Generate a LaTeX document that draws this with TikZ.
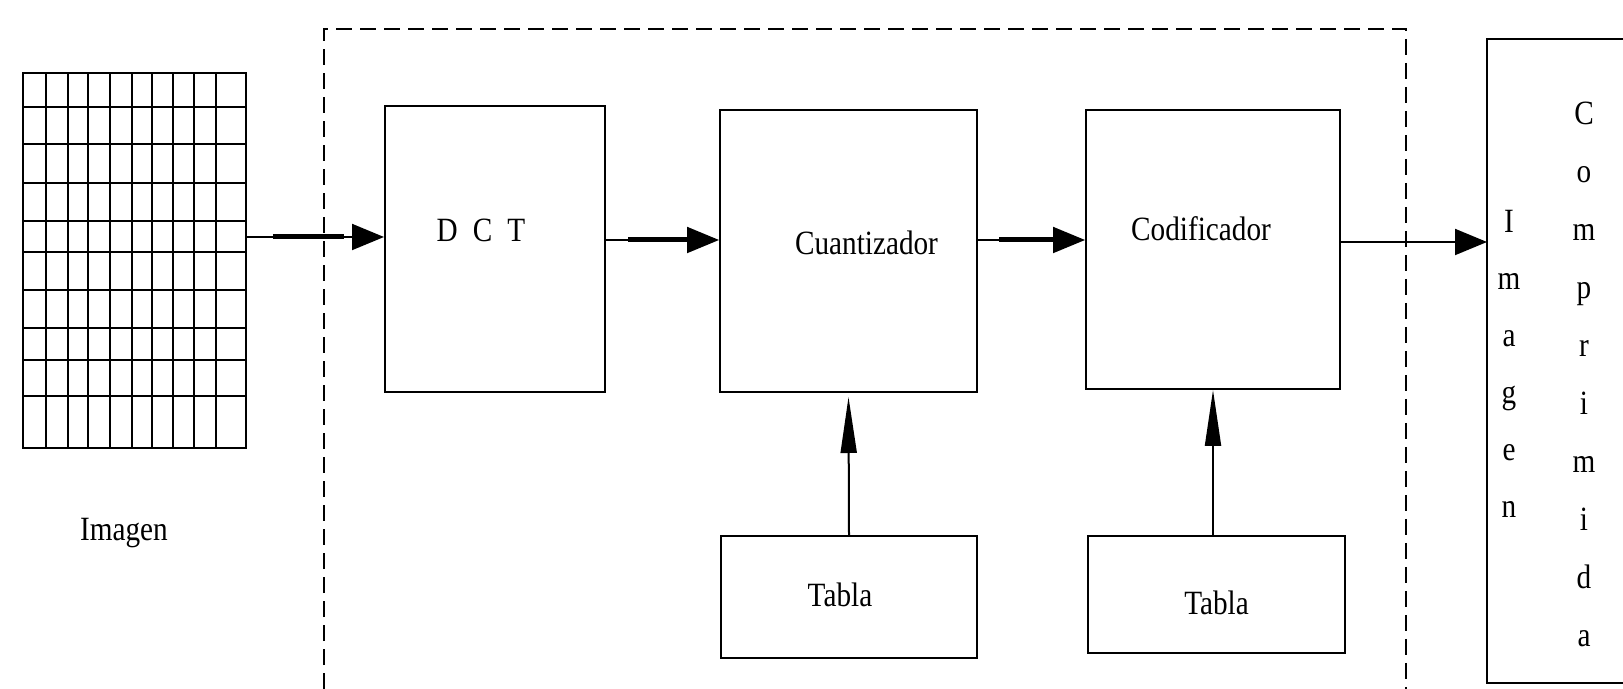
\documentclass[tikz,border=0pt]{standalone}
\usepackage{fontspec}
\setmainfont{Liberation Serif}[FakeStretch=0.86]
\usetikzlibrary{arrows.meta}
\tikzset{
  texto/.style={font=\fontsize{17}{20}\selectfont},
  caja/.style={draw,line width=1pt},
  rejilla/.style={line width=0.9pt},
  flecha/.style={line width=1pt,-{Triangle[length=16pt,width=13pt]}},
  flechav/.style={line width=1pt,-{Triangle[length=28pt,width=8pt]}},
  trazo/.style={line width=2.5pt}
}

\begin{document}
\begin{tikzpicture}[x=0.5pt,y=-0.5pt]
  \useasboundingbox (0,0) rectangle (1623,689);
  % imagen de entrada
  \node[draw,rejilla,minimum width=111.5pt,minimum height=187.5pt] (img) at (134.5,260.5) {};
  \foreach \gx in {45.7,67.7,88.3,110,131.7,152.3,172.7,194.3,216}
    {\draw[rejilla] (\gx,0 |- img.north) -- (\gx,0 |- img.south);}
  \foreach \gy in {106.7,144,183.3,220.7,251.7,290,327.7,360,396}
    {\draw[rejilla] (img.west |- 0,\gy) -- (img.east |- 0,\gy);}
  \node[texto] (lblimg) at (124,533) {Imagen};

  % compresor
  \draw[line width=0.7pt,dash pattern=on 8pt off 4pt] (324,689) |- (1406,29) -- (1406,689);
  \node[caja,minimum width=110pt,minimum height=143pt,
    label={[texto,xshift=-7pt,yshift=9.5pt]center:D\;\,C\;\,T}] (dct) at (495,249) {};
  \node[caja,minimum width=128.5pt,minimum height=141pt,
    label={[texto,xshift=9pt,yshift=4pt]center:Cuantizador}] (cuant) at (848.5,251) {};
  \node[caja,minimum width=127pt,minimum height=139.5pt,
    label={[texto,xshift=-6pt,yshift=10.5pt]center:Codificador}] (cod) at (1213,249.5) {};
  \node[caja,minimum width=128pt,minimum height=61pt,
    label={[texto,xshift=-4.5pt,yshift=1pt]center:Tabla}] (tab1) at (849,597) {};
  \node[caja,minimum width=128.5pt,minimum height=58.5pt,
    label={[texto,yshift=-4pt]center:Tabla}] (tab2) at (1216.5,594.5) {};

  % salida (el borde derecho queda fuera)
  \draw[caja] (1623,39) -| (1487,683) -- (1623,683);
  \coordinate (sal) at (1487,242);
  \node[font=\fontsize{17}{28.5}\selectfont,align=center] (sal1) at (1509,364) {I\\m\\a\\g\\e\\n};
  \node[font=\fontsize{17}{29}\selectfont,align=center] (sal2) at (1584,374) {C\\o\\m\\p\\r\\i\\m\\i\\d\\a};

  % conexiones
  \draw[flecha] (img.east |- 0,237) -- (dct.west |- 0,237);
  \draw[trazo,shorten <=13pt,shorten >=20pt] (img.east |- 0,237) -- (dct.west |- 0,237);
  \draw[flecha] (dct.east |- 0,240) -- (cuant.west |- 0,240);
  \draw[trazo,shorten <=11pt,shorten >=16pt] (dct.east |- 0,240) -- (cuant.west |- 0,240);
  \draw[flecha] (cuant.east |- 0,240) -- (cod.west |- 0,240);
  \draw[trazo,shorten <=10.5pt,shorten >=16pt] (cuant.east |- 0,240) -- (cod.west |- 0,240);
  \draw[flecha] (cod.east |- sal) -- (sal);
  \draw[flechav] (tab1.north) -- ([yshift=-2pt]cuant.south);
  \draw[flechav] (tab2.north -| cod.south) -- (cod.south);
\end{tikzpicture}
\end{document}
